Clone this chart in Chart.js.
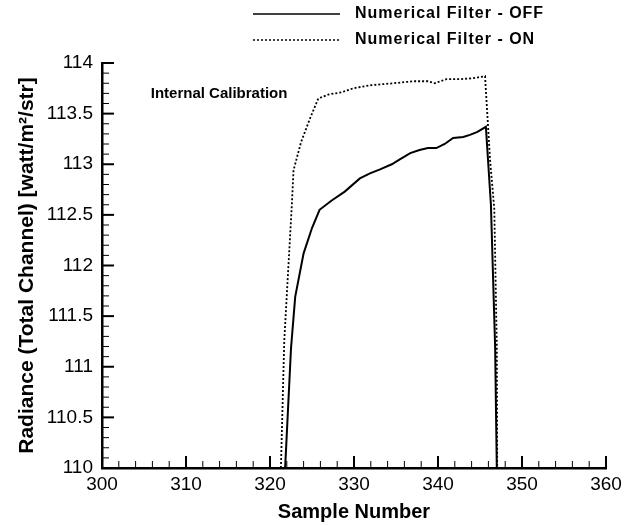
<!DOCTYPE html>
<html lang="en">
  <head>
    <meta charset="UTF-8" />
    <script src="https://cdn.jsdelivr.net/npm/chart.js"></script>
    <style>
      body {
        margin: 0;
        padding: 0;
        background-color: #ffffff;
      }
      .wrap {
        width: 630px;
        height: 525px;
      }
    </style>
  </head>
  <body>
    <div class="wrap">
      <canvas id="chart" width="630" height="525"></canvas>
    </div>

    <script>
      // values
      const sampleOff = [321.8, 322.5, 323.0, 324.0, 325.0, 325.9, 327.3, 328.9, 330.7, 331.9, 333.1, 334.5, 335.5, 336.7, 337.8, 338.8, 339.8, 340.8, 341.8, 343.0, 343.8, 344.7, 345.7, 346.3, 346.8, 347.0];
      const radianceOff = [110, 111.18, 111.69, 112.12, 112.37, 112.55, 112.64, 112.73, 112.86, 112.91, 112.95, 113.0, 113.05, 113.11, 113.14, 113.16, 113.16, 113.2, 113.26, 113.27, 113.29, 113.32, 113.37, 112.6, 111.2, 110];

      const sampleOn = [321.3, 321.7, 322.6, 322.8, 323.7, 324.8, 325.75, 327.0, 328.5, 329.9, 331.9, 334.7, 337.1, 338.8, 339.6, 341.0, 342.5, 344.2, 345.6, 346.2, 346.7, 347.0, 347.05];
      const radianceOn = [110, 111.26, 112.6, 112.94, 113.22, 113.46, 113.65, 113.69, 113.71, 113.75, 113.78, 113.8, 113.82, 113.82, 113.8, 113.84, 113.84, 113.85, 113.87, 113.04, 112.56, 111.2, 110];

      const xTicks = [300, 310, 320, 330, 340, 350, 360];
      const yTicks = [110, 110.5, 111, 111.5, 112, 112.5, 113, 113.5, 114];
      const seriesNames = ["Numerical Filter - OFF", "Numerical Filter - ON"];

      const FONT = "'Liberation Sans', Arial, sans-serif";
      const toPoints = (xs, ys) => xs.map((x, i) => ({ x: x, y: ys[i] }));

      // tecplot style ticks pointing into the plot
      const inwardTicks = {
        id: "inwardTicks",
        afterDatasetsDraw(chart) {
          const { ctx, chartArea, scales } = chart;
          const x = scales.x, y = scales.y;
          ctx.save();
          ctx.strokeStyle = "#000";
          for (let v = x.min; v <= x.max + 1e-6; v += 2) {
            const major = Math.abs(v % 10) < 1e-6;
            const px = x.getPixelForValue(v);
            ctx.lineWidth = major ? 2 : 1;
            ctx.beginPath();
            ctx.moveTo(px, chartArea.bottom);
            ctx.lineTo(px, chartArea.bottom - (major ? 12 : 7));
            ctx.stroke();
          }
          for (let i = 0; i <= 40; i++) {
            const v = y.min + i * 0.1;
            const major = i % 5 === 0;
            const py = y.getPixelForValue(v);
            ctx.lineWidth = major ? 2 : 1;
            ctx.beginPath();
            ctx.moveTo(chartArea.left, py);
            ctx.lineTo(chartArea.left + (major ? 12 : 7), py);
            ctx.stroke();
          }
          ctx.restore();
        }
      };

      const legendAndNote = {
        id: "legendAndNote",
        afterDraw(chart) {
          const { ctx, scales } = chart;
          ctx.save();
          ctx.fillStyle = "#000";
          ctx.textBaseline = "middle";
          ctx.font = "bold 16px " + FONT;
          ctx.letterSpacing = "1px";
          const rows = [14, 40];
          chart.data.datasets.forEach((ds, i) => {
            ctx.strokeStyle = ds.borderColor;
            ctx.lineWidth = 1.5;
            ctx.setLineDash(ds.borderDash || []);
            ctx.beginPath();
            ctx.moveTo(253, rows[i]);
            ctx.lineTo(340, rows[i]);
            ctx.stroke();
            ctx.setLineDash([]);
            ctx.fillText(ds.label, 355, rows[i]);
          });
          ctx.letterSpacing = "0px";
          ctx.font = "bold 15px " + FONT;
          ctx.fillText("Internal Calibration",
            scales.x.getPixelForValue(305.8), scales.y.getPixelForValue(113.7));
          ctx.restore();
        }
      };

      new Chart(document.getElementById("chart"), {
        type: "line",
        data: {
          datasets: [
            {
              label: seriesNames[0],
              data: toPoints(sampleOff, radianceOff),
              borderColor: "#000",
              borderWidth: 2,
              pointRadius: 0,
              tension: 0
            },
            {
              label: seriesNames[1],
              data: toPoints(sampleOn, radianceOn),
              borderColor: "#000",
              borderWidth: 1.8,
              borderDash: [2, 2],
              pointRadius: 0,
              tension: 0
            }
          ]
        },
        options: {
          responsive: false,
          animation: false,
          layout: { padding: { top: 63, right: 24, left: 0, bottom: 0 } },
          plugins: {
            legend: { display: false },
            tooltip: { enabled: false }
          },
          scales: {
            x: {
              type: "linear",
              min: 300,
              max: 360,
              afterBuildTicks: s => { s.ticks = xTicks.map(v => ({ value: v })); },
              afterFit: s => { s.height = 57; },
              grid: { display: false, drawTicks: false },
              border: { display: true, color: "#000", width: 2.5 },
              ticks: {
                color: "#000",
                padding: 5,
                maxRotation: 0,
                font: { family: FONT, size: 19 },
                callback: v => String(v)
              },
              title: {
                display: true,
                text: "Sample Number",
                color: "#000",
                padding: { top: 0, bottom: 1 },
                font: { family: FONT, size: 20, weight: "bold" }
              }
            },
            y: {
              min: 110,
              max: 114,
              afterBuildTicks: s => { s.ticks = yTicks.map(v => ({ value: v })); },
              afterFit: s => { s.width = 102; },
              grid: { display: false, drawTicks: false },
              border: { display: true, color: "#000", width: 2.5 },
              ticks: {
                color: "#000",
                padding: 9,
                font: { family: FONT, size: 19 },
                callback: v => String(+v.toFixed(1))
              },
              title: {
                display: true,
                text: "Radiance (Total Channel) [watt/m\u00b2/str]",
                color: "#000",
                padding: { top: 15, bottom: 0 },
                font: { family: FONT, size: 21, weight: "bold" }
              }
            }
          }
        },
        plugins: [inwardTicks, legendAndNote]
      });
    </script>
  </body>
</html>
